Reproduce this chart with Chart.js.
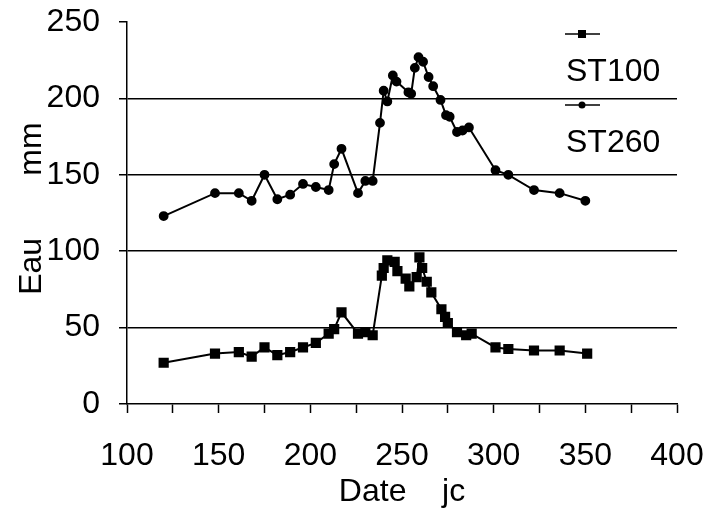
<!DOCTYPE html>
<html>
<head>
<meta charset="utf-8">
<script src="https://cdn.jsdelivr.net/npm/chart.js@4/dist/chart.umd.min.js"></script>
<style>
  html, body { margin: 0; padding: 0; background: #fff; }
</style>
</head>
<body>
<canvas id="eauChart" width="703" height="512"></canvas>
<script>
// sampling days (jc) and water (mm)
const days100 = [120, 148, 161, 168, 175, 182, 189, 196, 203, 210, 213, 217, 226, 230, 234, 239, 240, 242, 246, 247.5, 252, 254, 258, 259.5, 261, 263.5, 266, 271.5, 273.5, 275, 280, 285, 288, 301, 308, 322, 336, 351];
const st100 = [27, 33, 34, 31, 37, 32, 34, 37, 40, 46, 49, 60, 46, 47, 45, 84, 89, 94, 93, 87, 82, 77, 83, 96, 89, 80, 73, 62, 57, 53, 47, 45, 46, 37, 36, 35, 35, 33];

const days260 = [120, 148, 161, 168, 175, 182, 189, 196, 203, 210, 213, 217, 226, 230, 234, 238, 240, 242, 245, 247, 253.5, 255, 257, 259, 261.5, 264.5, 267, 271, 274, 276, 280, 283, 286.5, 301, 308, 322, 336, 350];
const st260 = [123, 138, 138, 133, 150, 134, 137, 144, 142, 140, 157, 167, 138, 146, 146, 184, 205, 198, 215, 211, 204, 203, 220, 227, 224, 214, 208, 199, 189, 188, 178, 179, 181, 153, 150, 140, 138, 133];

const seriesNames = ['ST100', 'ST260'];
const xMin = 100, xMax = 400, xStep = 25, xLabelStep = 50;
const yMin = 0, yMax = 250, yStep = 50;

function toPoints(xs, ys) {
    return xs.map((x, i) => ({ x: x, y: ys[i] }));
}

const FONT = 'Liberation Sans, Arial, sans-serif';

// legend drawn as symbol above label, like the original figure
const stackedLegend = {
    id: 'stackedLegend',
    afterDraw(chart) {
        const ctx = chart.ctx;
        const top = chart.chartArea.top;
        ctx.save();
        chart.data.datasets.forEach((ds, i) => {
            const symY = top + 12 + i * 71;
            const textY = symY + 38;
            ctx.strokeStyle = '#000';
            ctx.lineWidth = 1.5;
            ctx.beginPath();
            ctx.moveTo(565, symY);
            ctx.lineTo(600, symY);
            ctx.stroke();
            ctx.fillStyle = '#000';
            if (ds.pointStyle === 'rect') {
                ctx.fillRect(578, symY - 4, 8, 8);
            } else {
                ctx.beginPath();
                ctx.arc(582, symY, 3.5, 0, Math.PI * 2);
                ctx.fill();
            }
            ctx.font = '32px ' + FONT;
            ctx.textBaseline = 'middle';
            ctx.textAlign = 'left';
            ctx.fillText(ds.label, 566, textY);
        });
        ctx.restore();
    }
};

const ctx = document.getElementById('eauChart').getContext('2d');
const eauChart = new Chart(ctx, {
    type: 'line',
    data: {
        datasets: [{
            label: seriesNames[0],
            data: toPoints(days100, st100),
            borderColor: '#000',
            backgroundColor: '#000',
            borderWidth: 2,
            pointStyle: 'rect',
            pointRadius: 5.8,
            tension: 0
        }, {
            label: seriesNames[1],
            data: toPoints(days260, st260),
            borderColor: '#000',
            backgroundColor: '#000',
            borderWidth: 2,
            pointStyle: 'circle',
            pointRadius: 3.9,
            tension: 0
        }]
    },
    options: {
        responsive: false,
        animation: false,
        layout: { padding: { left: 0, right: 26, top: 22, bottom: 0 } },
        plugins: {
            legend: { display: false },
            tooltip: { enabled: false }
        },
        scales: {
            x: {
                type: 'linear',
                min: xMin,
                max: xMax,
                afterFit: (scale) => {
                    scale.height = 108;
                    scale.paddingLeft = 0;
                    scale.paddingRight = 0;
                },
                border: { color: '#000', width: 1.5 },
                grid: { drawOnChartArea: false, tickLength: 9, tickColor: '#000', tickWidth: 1.5 },
                ticks: {
                    stepSize: xStep,
                    autoSkip: false,
                    maxRotation: 0,
                    padding: 24,
                    color: '#000',
                    font: { family: FONT, size: 32 },
                    callback: (v) => (v % xLabelStep === 0 ? v : '')
                },
                title: {
                    display: true,
                    text: 'Date    jc',
                    color: '#000',
                    font: { family: FONT, size: 32 },
                    padding: { top: 0, bottom: 1 }
                }
            },
            y: {
                min: yMin,
                max: yMax,
                afterFit: (scale) => {
                    scale.width = 127;
                    scale.paddingTop = 0;
                    scale.paddingBottom = 0;
                },
                border: { color: '#000', width: 1.5 },
                grid: {
                    color: (c) => (c.tick && (c.tick.value === yMin || c.tick.value === yMax) ? 'rgba(0,0,0,0)' : '#000'),
                    lineWidth: 1.5,
                    tickLength: 8,
                    tickColor: '#000',
                    tickWidth: 1.5
                },
                ticks: {
                    stepSize: yStep,
                    padding: 19,
                    color: '#000',
                    font: { family: FONT, size: 32 }
                },
                title: {
                    display: true,
                    text: ' Eau       mm',
                    color: '#000',
                    font: { family: FONT, size: 32 },
                    padding: { top: 13, bottom: 0 }
                }
            }
        }
    },
    plugins: [stackedLegend]
});
</script>
</body>
</html>
